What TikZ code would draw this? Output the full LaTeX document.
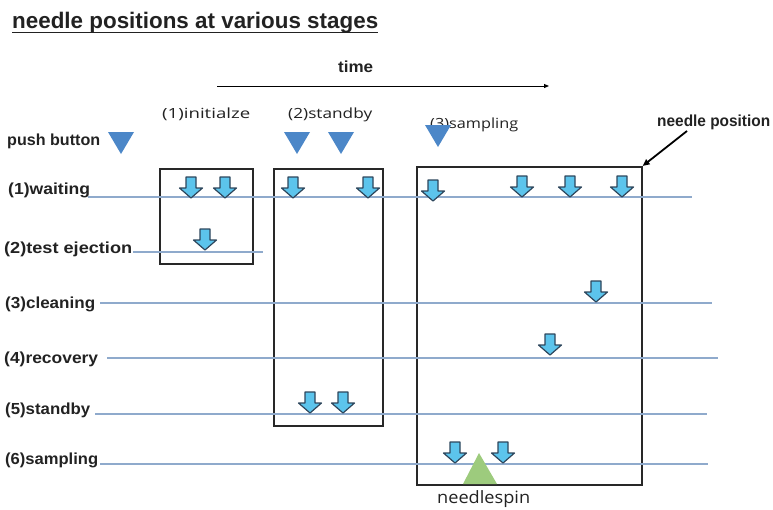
\documentclass[tikz,border=0pt]{standalone}
\usepackage{fontspec}
\usepackage{graphicx}
\setmainfont{Liberation Sans}
\newfontfamily\stagefont{Open Sans}
\usetikzlibrary{arrows.meta}

\definecolor{lvlblue}{RGB}{143,170,204}
\definecolor{pressblue}{RGB}{76,135,200}
\definecolor{needlefill}{RGB}{92,196,236}
\definecolor{needleline}{RGB}{45,70,92}
\definecolor{boxgray}{RGB}{40,40,40}
\definecolor{textgray}{RGB}{34,34,34}
\definecolor{spingreen}{RGB}{157,203,125}

% squeeze or stretch a text horizontally to a given width (in pt)
\newcommand\fitw[2]{\resizebox{#1pt}{\height}{#2}}

\tikzset{
  lbl/.style={anchor=base west, inner sep=0pt, text=textgray,
    font=\fontsize{16}{18}\selectfont\bfseries},
  stg/.style={anchor=base west, inner sep=0pt, text=textgray,
    font=\stagefont\fontsize{14}{16}\selectfont},
  level/.style={draw=lvlblue, line width=1.2pt},
  stagebox/.style={draw=boxgray, line width=1.6pt, anchor=north west,
    inner sep=0pt, fill=none},
  pics/pressmark/.style={code={
    \fill[pressblue] (-13,0) -- (13,0) -- (0,22) -- cycle;}},
  pics/needle/.style={code={
    \draw[needleline, fill=needlefill, line width=1.2pt, line join=round]
      (0,0) -- (-11.5,-10) -- (-5,-10) -- (-5,-21) -- (5,-21)
      -- (5,-10) -- (11.5,-10) -- cycle;}},
}

\begin{document}
\begin{tikzpicture}[x=1pt,y=-1pt]
\useasboundingbox (0,0) rectangle (773,509);

% title
\node (title) [anchor=base west, inner sep=0pt, text=textgray,
  font=\fontsize{22.5}{26}\selectfont\bfseries] at (12,28)
  {\fitw{366}{needle positions at various stages}};
\draw[textgray, line width=1.6pt] (title.south west |- 0,32.5) -- (title.south east |- 0,32.5);

% time axis
\node (time) [lbl] at (338,72) {\fitw{35}{time}};
\coordinate (t0) at (217,86);
\coordinate (t1) at (549,86);
\draw[black, line width=1pt, -{Triangle[length=5pt,width=4pt]}] (t0) -- (t1);

% stage headings
\node (s1) [stg] at (162,118) {\fitw{88}{(1)initialze}};
\node (s2) [stg] at (288,118) {\fitw{84}{(2)standby}};
\node (s3) [stg] at (430,128) {\fitw{88}{(3)sampling}};

% button presses
\node (pb) [lbl] at (7,145) {\fitw{93}{push button}};
\pic at (121,132) {pressmark};
\pic at (297,132) {pressmark};
\pic at (341,132) {pressmark};
\pic at (438,125) {pressmark};

% stage boxes
\node (b1) [stagebox, minimum width=93pt, minimum height=95pt] at (159,168) {};
\node (b2) [stagebox, minimum width=109pt, minimum height=257pt] at (273,168) {};
\node (b3) [stagebox, minimum width=225pt, minimum height=318pt] at (416,166) {};

% needle levels
\node (l1) [lbl] at (8,194) {\fitw{82}{(1)waiting}};
\node (l2) [lbl] at (4,253) {\fitw{128}{(2)test ejection}};
\node (l3) [lbl] at (5,308) {\fitw{90}{(3)cleaning}};
\node (l4) [lbl] at (4,363) {\fitw{94}{(4)recovery}};
\node (l5) [lbl] at (5,414) {\fitw{85}{(5)standby}};
\node (l6) [lbl] at (5,464) {\fitw{93}{(6)sampling}};

\draw[level] (88,197) -- (692,197);
\draw[level] (133,252) -- (263,252);
\draw[level] (100,303) -- (712,303);
\draw[level] (107,358) -- (718,358);
\draw[level] (95,414) -- (707,414);
\draw[level] (100,464) -- (708,464);

% needle positions
\pic at (191,198) {needle};
\pic at (225,198) {needle};
\pic at (205,250) {needle};
\pic at (293,198) {needle};
\pic at (368,198) {needle};
\pic at (310,413) {needle};
\pic at (343,413) {needle};
\pic at (433,201) {needle};
\pic at (522,197) {needle};
\pic at (570,197) {needle};
\pic at (622,197) {needle};
\pic at (596,302) {needle};
\pic at (550,355) {needle};
\pic at (455,463) {needle};
\pic at (503,463) {needle};

% needle spin mark
\fill[spingreen] (463,484) -- (479,453) -- (497,484) -- cycle;
\node (spin) [anchor=base west, inner sep=0pt, text=textgray,
  font=\stagefont\fontsize{17}{20}\selectfont] at (437,503) {\fitw{93}{needlespin}};

% pointer to the needle position
\node (np) [lbl] at (657,126) {\fitw{113}{needle position}};
\coordinate (ptr) at (687,131);
\draw[black, line width=1.8pt, -{Triangle[length=7pt,width=6pt]}] (ptr) -- (b3.north east);
\end{tikzpicture}
\end{document}
